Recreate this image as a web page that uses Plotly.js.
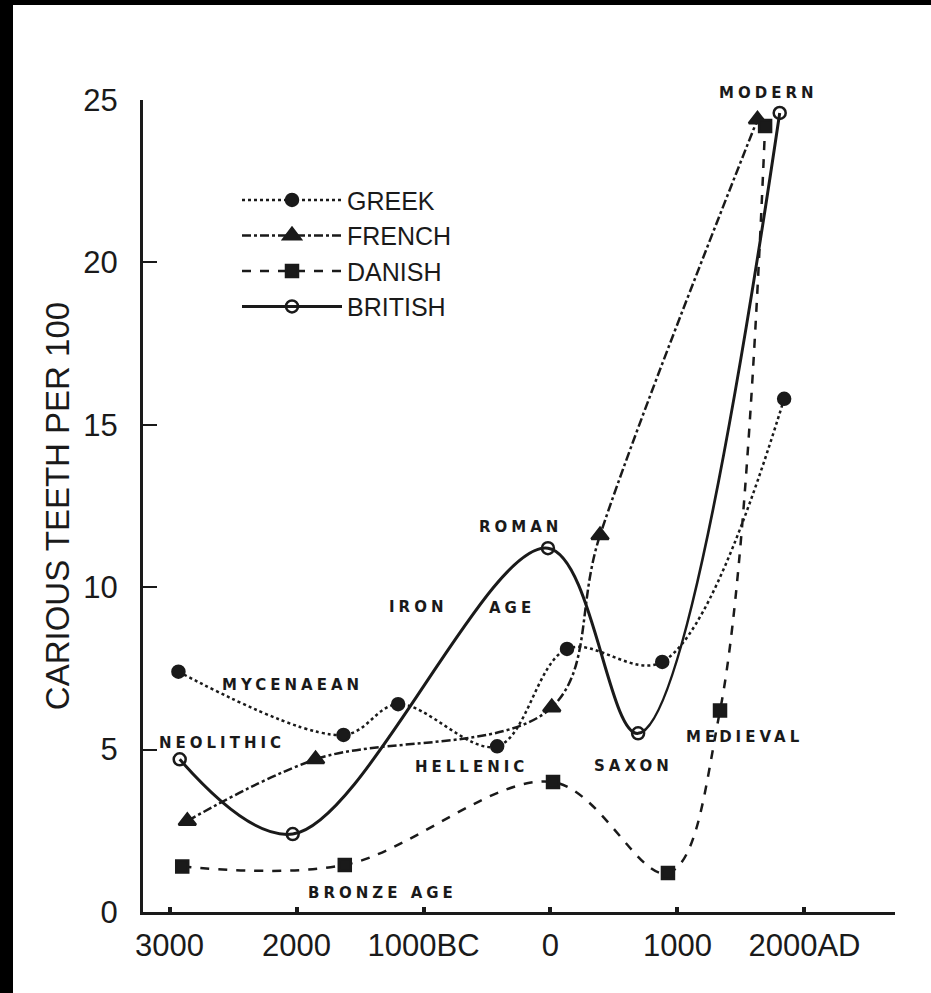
<!DOCTYPE html>
<html>
<head>
<meta charset="utf-8">
<script src="https://cdn.plot.ly/plotly-3.0.1.min.js"></script>
<style>
  body { margin: 0; background: #000; }
  #chart { position: absolute; left: 13px; top: 5px; width: 918px; height: 988px; background: #fff; }
</style>
</head>
<body>
<div id="chart"></div>
<script>
// years (negative = BC), caries per 100 teeth
const greekYears = [-2930, -1630, -1200, -420, 130, 880, 1840];
const greekValues = [7.4, 5.45, 6.4, 5.1, 8.1, 7.7, 15.8];

const frenchYears = [-2860, -1850, 10, 390, 1630];
const frenchValues = [2.8, 4.7, 6.3, 11.6, 24.4];

const danishYears = [-2900, -1620, 20, 925, 1335, 1690];
const danishValues = [1.4, 1.45, 4.0, 1.2, 6.2, 24.2];

const britishYears = [-2920, -2030, -20, 690, 1805];
const britishValues = [4.7, 2.4, 11.2, 5.5, 24.6];

const xTickVals = [-3000, -2000, -1000, 0, 1000, 2000];
const xTickText = ['3000', '2000', '1000BC', '0', '1000', '2000AD'];
const yTickVals = [0, 5, 10, 15, 20, 25];

// period labels written on the chart
const periodNames = ['MYCENAEAN', 'NEOLITHIC', 'IRON', 'AGE', 'ROMAN', 'HELLENIC', 'SAXON', 'MEDIEVAL', 'BRONZE AGE'];
const periodYears = [-2035, -2590, -1045, -300, -240, -620, 650, 1530, -1320];
const periodValues = [7.0, 5.2, 9.4, 9.35, 11.85, 4.45, 4.5, 5.4, 0.6];

const ink = '#1a1a1a';

function makeTrace(name, x, y, dash, symbol, width) {
    return {
        name: name,
        x: x,
        y: y,
        mode: 'lines+markers',
        line: { color: ink, width: width, dash: dash, shape: 'spline', smoothing: 1 },
        marker: { symbol: symbol, size: symbol === 'triangle-up' ? 15 : 12, color: ink, line: { color: ink, width: 2.5 } },
        cliponaxis: false
    };
}

const data = [
    makeTrace('GREEK', greekYears, greekValues, 'dot', 'circle', 2.5),
    makeTrace('FRENCH', frenchYears, frenchValues, 'dashdot', 'triangle-up', 2.5),
    makeTrace('DANISH', danishYears, danishValues, 'dash', 'square', 2.5),
    makeTrace('BRITISH', britishYears, britishValues, 'solid', 'circle-open', 3)
];

function labelText(name) {
    return '<b><span style="letter-spacing:4px">' + name + '</span></b>';
}

const labelFont = { family: 'DejaVu Sans', size: 15, color: ink };
const annotations = periodNames.map((name, i) => ({
    x: periodYears[i],
    y: periodValues[i],
    text: labelText(name),
    showarrow: false,
    font: labelFont
}));
annotations.push({
    x: 1715, xref: 'x', y: 1.022, yref: 'paper',
    text: labelText('MODERN'),
    showarrow: false, font: labelFont
});

const layout = {
    width: 918,
    height: 988,
    margin: { l: 130, r: 36, t: 95, b: 81 },
    paper_bgcolor: '#fff',
    plot_bgcolor: '#fff',
    font: { family: 'Liberation Sans', color: ink },
    showlegend: true,
    legend: {
        x: 0.125, y: 0.905, xanchor: 'left', yanchor: 'top',
        font: { family: 'Liberation Sans', size: 25, color: ink },
        bgcolor: 'rgba(0,0,0,0)',
        itemwidth: 100
    },
    xaxis: {
        range: [-3209, 2713],
        tickvals: xTickVals,
        ticktext: xTickText,
        ticks: 'inside', ticklen: 5, tickwidth: 4, tickcolor: ink,
        ticklabelstandoff: 4,
        showline: true, linecolor: ink, linewidth: 3,
        showgrid: false, zeroline: false,
        tickfont: { family: 'Liberation Sans', size: 31, color: ink }
    },
    yaxis: {
        range: [0, 25],
        tickvals: yTickVals,
        ticks: 'inside', ticklen: 14, tickwidth: 2, tickcolor: ink,
        ticklabelstandoff: 16,
        showline: true, linecolor: ink, linewidth: 3,
        showgrid: false, zeroline: false,
        tickfont: { family: 'Liberation Sans', size: 31, color: ink },
        title: { text: 'CARIOUS TEETH PER 100', standoff: 4, font: { family: 'Liberation Sans', size: 33, color: ink } }
    },
    annotations: annotations
};

Plotly.newPlot('chart', data, layout, { displayModeBar: false, staticPlot: true });
</script>
</body>
</html>
